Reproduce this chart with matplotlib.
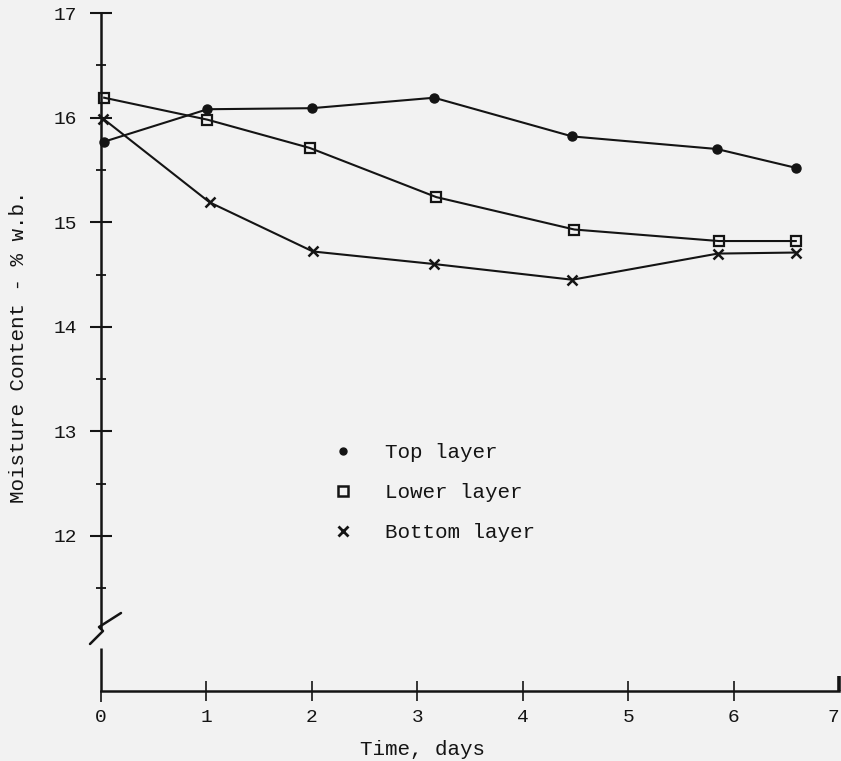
import matplotlib
matplotlib.use("Agg")
import matplotlib.pyplot as plt
import matplotlib.lines as mlines
from matplotlib.ticker import FixedLocator

# Moisture content of the three layers over the storage period
days_top = [0.03, 1.01, 2.0, 3.16, 4.47, 5.84, 6.59]
top_layer = [15.77, 16.08, 16.09, 16.19, 15.82, 15.70, 15.52]

days_lower = [0.03, 1.01, 1.98, 3.18, 4.49, 5.86, 6.59]
lower_layer = [16.19, 15.98, 15.71, 15.24, 14.93, 14.82, 14.82]

days_bottom = [0.02, 1.03, 2.01, 3.16, 4.47, 5.85, 6.59]
bottom_layer = [15.99, 15.19, 14.72, 14.60, 14.45, 14.70, 14.71]

x_ticks = [0, 1, 2, 3, 4, 5, 6, 7]
y_ticks = [12, 13, 14, 15, 16, 17]
legend_labels = ["Top layer", "Lower layer", "Bottom layer"]

INK = "#141414"
BG = "#f2f2f2"
FONT = ["Liberation Mono", "DejaVu Sans Mono"]

plt.rcParams["font.family"] = FONT

W, H = 841, 761
fig = plt.figure(figsize=(W / 100, H / 100), dpi=100, facecolor=BG)
ax_left, ax_right, ax_top, ax_bot = 101, 839, 13, 691
ax = fig.add_axes([ax_left / W, 1 - ax_bot / H, (ax_right - ax_left) / W, (ax_bot - ax_top) / H])
ax.set_facecolor(BG)

px_day = (ax_right - ax_left) / 7.0
px_val = 104.6
y_low = 17 - (ax_bot - ax_top) / px_val
ax.set_xlim(0, 7)
ax.set_ylim(y_low, 17)

line_kw = dict(color=INK, lw=1.5, clip_on=False, zorder=3)
h_top, = ax.plot(days_top, top_layer, marker="o", ms=6.5, mfc=INK, mec=INK, **line_kw)
h_low, = ax.plot(days_lower, lower_layer, marker="s", ms=7.5, mfc="none", mec=INK, mew=1.6, **line_kw)
h_bot, = ax.plot(days_bottom, bottom_layer, marker="x", ms=7.5, mec=INK, mew=1.8, **line_kw)

# Spines: broken vertical axis, plain horizontal axis
for s in ("top", "right"):
    ax.spines[s].set_visible(False)
for s in ("bottom", "left"):
    ax.spines[s].set_linewidth(1.8)
    ax.spines[s].set_color(INK)


def val_at(py):
    """Value on the vertical scale at a given pixel row."""
    return 17 - (py - ax_top) / px_val


ax.spines["left"].set_bounds(val_at(628), 17)
ax.plot([0, 0], [y_low, val_at(648)], color=INK, lw=1.8, clip_on=False, solid_capstyle="butt")
# axis-break mark
zx = [-11 / px_day, 2 / px_day, -2 / px_day, 20 / px_day]
zy = [val_at(644), val_at(631), val_at(627), val_at(613)]
ax.plot(zx, zy, color=INK, lw=1.8, clip_on=False, solid_capstyle="round")

# Ticks
ax.xaxis.set_major_locator(FixedLocator(x_ticks))
ax.yaxis.set_major_locator(FixedLocator(y_ticks))
ax.yaxis.set_minor_locator(FixedLocator([v + 0.5 for v in [11] + y_ticks[:-1]]))
ax.tick_params(axis="x", which="major", direction="inout", length=14, width=1.2,
               color=INK, labelsize=14, labelcolor=INK, pad=6)
ax.tick_params(axis="y", which="major", direction="inout", length=16, width=1.5,
               color=INK, labelsize=14, labelcolor=INK, pad=9)
ax.tick_params(axis="y", which="minor", direction="inout", length=7, width=1.3, color=INK)

xt = ax.xaxis.get_major_ticks()
xt[0].tick1line.set_marker(mlines.TICKDOWN)
xt[0].tick1line.set_markersize(8)
xt[-1].tick1line.set_marker(mlines.TICKUP)
xt[-1].tick1line.set_markersize(11)
xt[-1].tick1line.set_markeredgewidth(2.6)
xt[-1].label1.set_horizontalalignment("right")

ax.set_xlabel("Time, days", fontsize=15, color=INK)
ax.xaxis.set_label_coords((423 - ax_left) / (ax_right - ax_left), -(740 - ax_bot) / (ax_bot - ax_top))
ax.set_ylabel("Moisture Content - % w.b.", fontsize=15, color=INK)
ax.yaxis.set_label_coords(-(ax_left - 28) / (ax_right - ax_left), (ax_bot - 347) / (ax_bot - ax_top))

# Legend (markers only)
handles = [
    mlines.Line2D([], [], ls="none", marker="o", ms=5, mfc=INK, mec=INK),
    mlines.Line2D([], [], ls="none", marker="s", ms=7, mfc="none", mec=INK, mew=1.8),
    mlines.Line2D([], [], ls="none", marker="x", ms=7, mec=INK, mew=2.0),
]
leg = fig.legend(handles, legend_labels, loc="upper left",
                 bbox_to_anchor=(333 / W, 1 - 443 / H), frameon=False,
                 fontsize=15, handlelength=1.0, handletextpad=1.5,
                 labelspacing=1.02, borderpad=0, borderaxespad=0)
for t in leg.get_texts():
    t.set_color(INK)

fig.savefig("out.png", dpi=100, facecolor=BG)
